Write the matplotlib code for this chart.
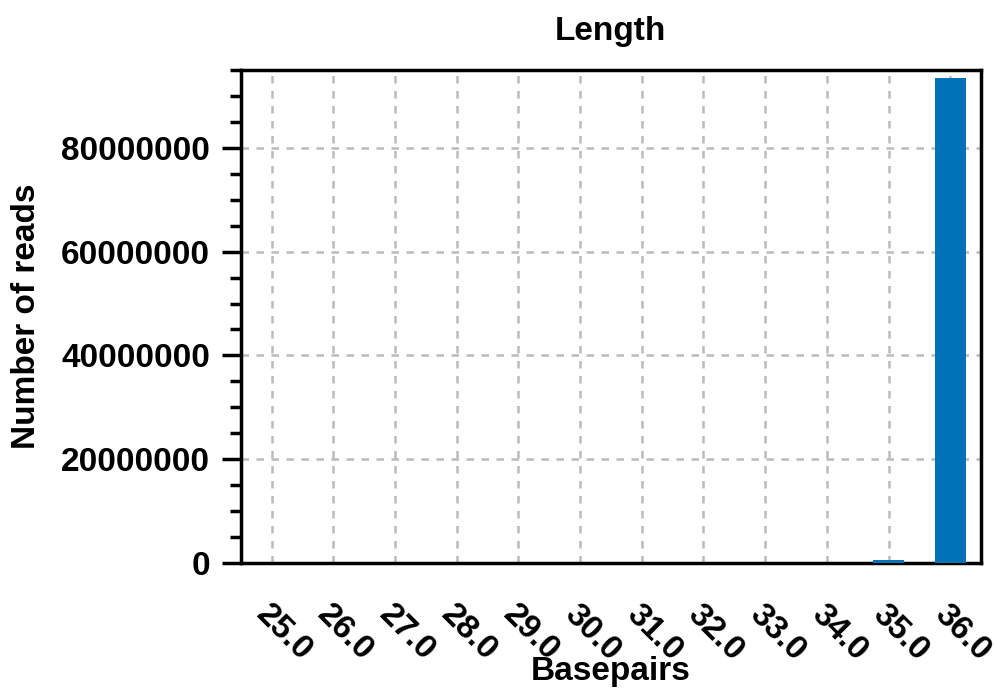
import matplotlib
matplotlib.use('Agg')
import matplotlib.pyplot as plt
from matplotlib.ticker import MultipleLocator

plt.rcParams['font.family'] = ['Liberation Sans', 'DejaVu Sans']
plt.rcParams['font.weight'] = 'bold'

# read lengths (bp) and read counts
lengths = [25.0, 26.0, 27.0, 28.0, 29.0, 30.0, 31.0, 32.0, 33.0, 34.0, 35.0, 36.0]
counts = [2000, 3000, 4000, 5000, 6000, 8000, 10000, 15000, 20000, 40000, 550000, 93500000]

fs = 24

fig = plt.figure(figsize=(9.95, 6.88), dpi=100)
ax = fig.add_axes([0.242, 0.182, 0.744, 0.716])

ax.bar(lengths, counts, width=0.5, color='#0072b8', zorder=3)

ax.set_xlim(24.5, 36.5)
ax.set_ylim(0, 95000000)
ax.set_xticks(lengths)
ax.set_xticklabels(['%.1f' % v for v in lengths], rotation=-45, ha='left',
                   rotation_mode='anchor', fontsize=fs, fontweight='bold')
ax.yaxis.set_major_locator(MultipleLocator(20000000))
ax.yaxis.set_minor_locator(MultipleLocator(5000000))
ax.ticklabel_format(axis='y', style='plain')
for lab in ax.get_yticklabels():
    lab.set_fontsize(fs)
    lab.set_fontweight('bold')

ax.tick_params(axis='y', which='major', direction='out', length=14, width=2.5, pad=8)
ax.tick_params(axis='y', which='minor', direction='out', length=8, width=2.5)
ax.tick_params(axis='x', which='major', length=0, pad=26)
ax.tick_params(top=False, right=False)

for s in ax.spines.values():
    s.set_linewidth(2.5)

ax.grid(True, which='major', linestyle=(0, (3, 3)), color='#bbbbbb', linewidth=1.8, zorder=0)

ax.set_title('Length', fontsize=fs, fontweight='bold', pad=22)
ax.set_xlabel('Basepairs', fontsize=fs, fontweight='bold')
ax.xaxis.set_label_coords(0.5, -0.19)
ax.set_ylabel('Number of reads', fontsize=fs, fontweight='bold', labelpad=14)

fig.savefig('out.png', dpi=100)
